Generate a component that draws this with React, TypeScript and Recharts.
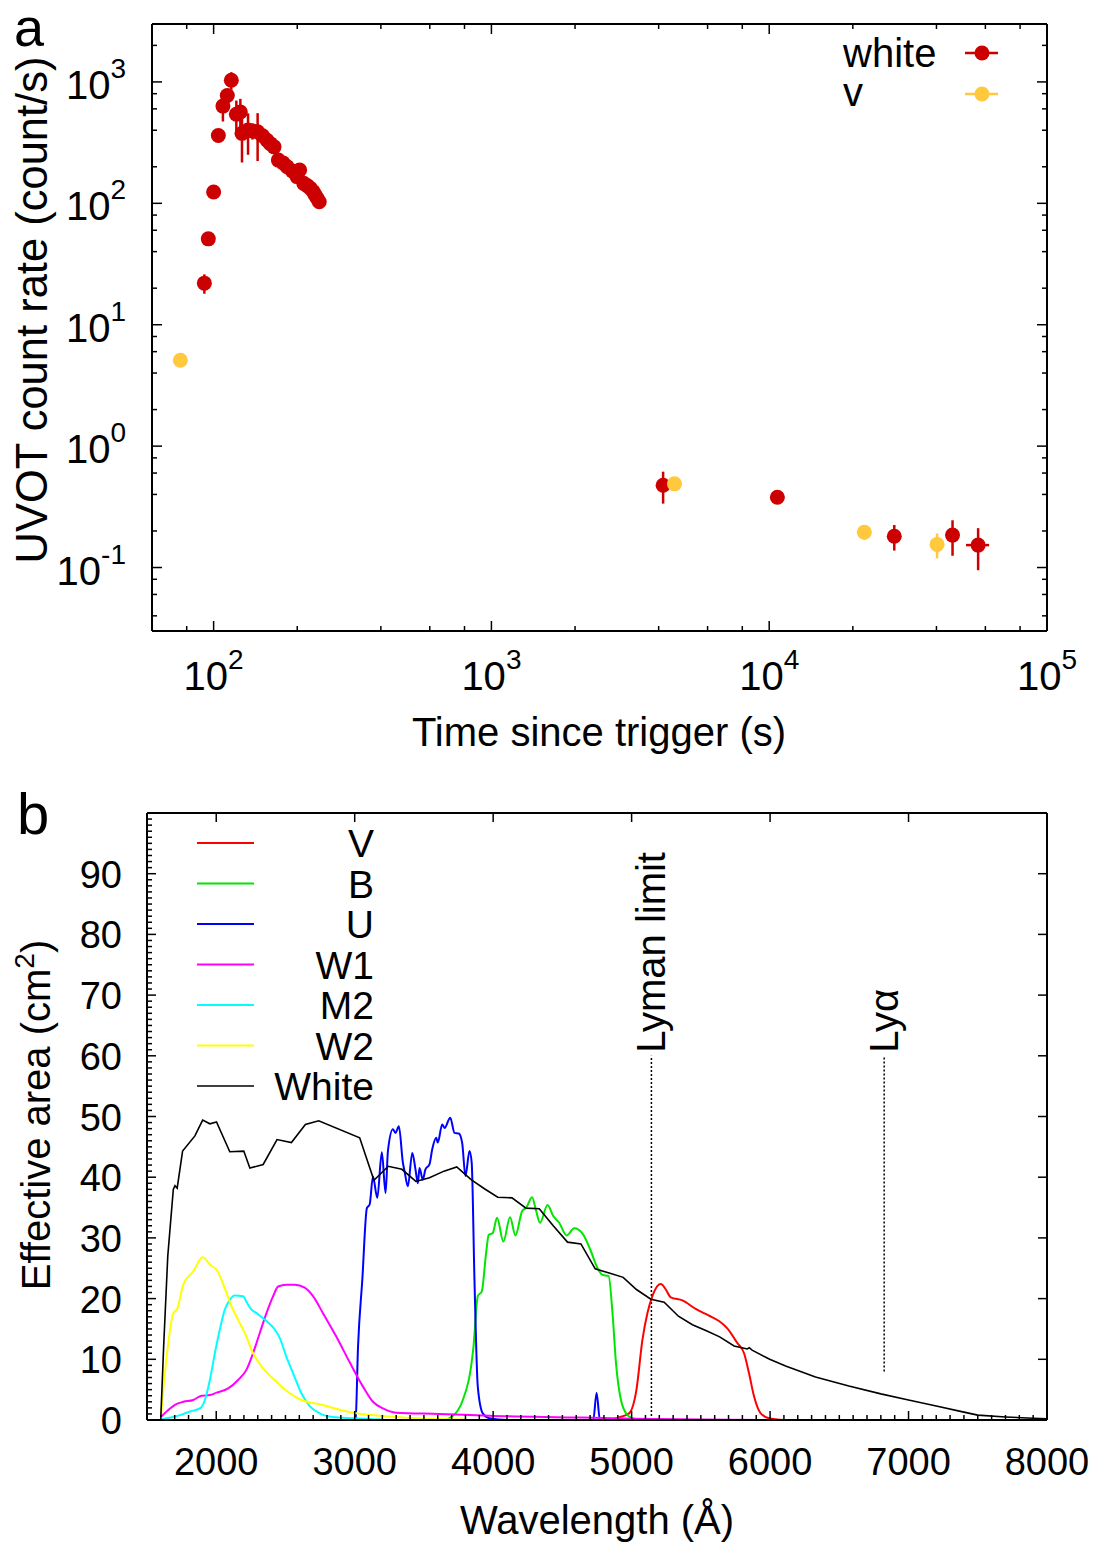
import { ScatterChart, Scatter, XAxis, YAxis, ErrorBar, LineChart, Line, ReferenceLine } from "recharts";

const FONT = '"Liberation Sans", Arial, Helvetica, sans-serif';
const RED = "#cc0000";
const GOLD = "#ffc83d";

// ---- panel a: UVOT light curve ----
const whiteTime = [92.6, 95.7, 100, 104, 108, 112, 115.8, 120.7, 124.8, 126.5, 133, 138, 144, 150, 155.7, 160, 165, 171, 178, 184, 192, 199.5, 204, 211, 217, 223, 228, 232, 236, 240, 4150, 10700, 28200, 45700, 56500];
const whiteRate = [22, 51, 124, 362, 632, 773, 1033, 542, 566, 377, 401, 395, 388, 360, 331, 310, 292, 227, 215, 200, 185, 166, 188, 146, 140, 133, 125, 117, 110, 103, 0.476, 0.379, 0.181, 0.185, 0.153];
const whiteRateErr = [4, 4, 8, 30, 160, 80, 170, 160, 160, 160, 150, 60, 165, 20, 15, 15, 15, 12, 12, 10, 10, 10, 10, 8, 8, 8, 7, 7, 6, 6, 0.14, 0.02, 0.043, 0.06, 0.058];
const whiteTimeErr = [0, 0, 0, 0, 0, 0, 0, 0, 0, 0, 0, 0, 0, 0, 0, 0, 0, 0, 0, 0, 0, 0, 0, 0, 0, 0, 0, 0, 0, 0, 0, 0, 0, 0, 5400];

const vTime = [75.9, 4560, 22000, 40200];
const vRate = [5.1, 0.489, 0.195, 0.155];
const vRateErr = [0.5, 0.02, 0.025, 0.036];

const timeTicks = [80, 100, 200, 400, 600, 800, 1000, 2000, 4000, 6000, 8000, 10000, 20000, 40000, 60000, 80000, 100000];
const rateTicks = [0.04, 0.06, 0.08, 0.1, 0.2, 0.4, 0.6, 0.8, 1, 2, 4, 6, 8, 10, 20, 40, 60, 80, 100, 200, 400, 600, 800, 1000, 2000];

const whiteData = whiteTime.map((t, i) => ({ t, rate: whiteRate[i], ey: whiteRateErr[i], ex: whiteTimeErr[i] }));
const vData = vTime.map((t, i) => ({ t, rate: vRate[i], ey: vRateErr[i], ex: 0 }));

// ---- panel b: effective areas [wavelength, cm2] ----
const vFilter = [[4850, 0], [4887, 0.3], [4982, 1.1], [5035, 5.0], [5078, 13.2], [5114, 17.6], [5150, 20.4], [5187, 22.1], [5211, 22.4], [5247, 21.5], [5283, 20.2], [5367, 19.7], [5463, 18.3], [5559, 17.2], [5631, 16.3], [5691, 15.1], [5763, 12.7], [5812, 11.0], [5848, 7.7], [5884, 3.9], [5932, 1.1], [5992, 0.3], [6100, 0]];
const bFilter = [[3650, 0], [3685, 0.3], [3781, 3.3], [3858, 12.1], [3889, 20.4], [3918, 21.2], [3949, 27.5], [3968, 30.5], [3997, 30.8], [4028, 33.3], [4074, 29.4], [4122, 33.4], [4161, 30.4], [4209, 34.4], [4240, 35.0], [4281, 36.7], [4310, 34.5], [4338, 32.5], [4393, 35.4], [4434, 33.6], [4477, 32.5], [4530, 30.4], [4586, 31.6], [4646, 30.7], [4706, 27.8], [4754, 25.0], [4790, 23.9], [4834, 23.7], [4862, 17.6], [4887, 9.4], [4923, 3.3], [4970, 0.8], [5006, 0.3], [5100, 0]];
const uFilter = [[2990, 0], [3007, 0.3], [3024, 12], [3055, 23.1], [3088, 34.9], [3108, 35.5], [3132, 40.1], [3163, 36.6], [3196, 44.1], [3223, 37.4], [3240, 44.3], [3276, 47.9], [3295, 47.3], [3319, 48.4], [3348, 42.4], [3360, 41.0], [3384, 38.5], [3416, 44.0], [3439, 41.3], [3456, 39.0], [3468, 41.5], [3492, 39.6], [3511, 41.3], [3540, 42.1], [3560, 44.6], [3589, 46.5], [3600, 45.7], [3632, 48.7], [3649, 48.1], [3690, 49.8], [3721, 47.3], [3752, 47.2], [3776, 45.7], [3800, 40.2], [3829, 44.3], [3845, 42.4], [3865, 23.1], [3889, 5.5], [3925, 1.1], [3973, 0.3], [4100, 0], [4723, 0], [4747, 4.5], [4771, 0], [5000, 0]];
const w1Filter = [[1600, 0.5], [1666, 1.9], [1702, 2.5], [1762, 3.0], [1834, 3.3], [1894, 4.0], [1954, 4.1], [2002, 4.5], [2086, 5.2], [2158, 6.6], [2219, 8.3], [2266, 11.0], [2314, 14.3], [2363, 17.6], [2411, 20.4], [2447, 22.0], [2507, 22.3], [2567, 22.3], [2639, 21.8], [2699, 20.4], [2771, 17.6], [2868, 13.7], [2964, 9.5], [3060, 5.5], [3132, 3.0], [3204, 1.9], [3300, 1.2], [3612, 1.0], [3973, 0.7], [4646, 0.4], [5000, 0.2], [5500, 0.1], [6000, 0]];
const m2Filter = [[1600, 0.1], [1738, 0.8], [1810, 1.4], [1882, 1.9], [1918, 3.3], [1954, 6.6], [1990, 11.0], [2026, 14.9], [2062, 18.2], [2098, 19.8], [2134, 20.5], [2194, 20.4], [2222, 19.3], [2250, 18.3], [2291, 17.6], [2363, 16.3], [2423, 14.9], [2459, 13.5], [2507, 10.4], [2555, 7.7], [2615, 4.4], [2675, 2.3], [2747, 1.1], [2843, 0.5], [2987, 0.3], [3200, 0.1]];
const w2Filter = [[1600, 0.5], [1642, 10.4], [1690, 17.6], [1718, 18.3], [1762, 22.3], [1834, 24.5], [1902, 26.8], [1954, 25.6], [2007, 24.6], [2062, 21.7], [2111, 18.7], [2158, 16.5], [2207, 14.3], [2266, 11.0], [2339, 8.5], [2435, 6.3], [2531, 4.4], [2615, 3.3], [2747, 2.6], [2891, 1.7], [3012, 1.1], [3180, 0.7], [3445, 0.3], [3800, 0.1]];
const whiteFilter = [[1600, 0.5], [1620, 12], [1650, 27], [1666, 31.4], [1690, 38], [1702, 38.6], [1718, 38.2], [1757, 44.3], [1846, 46.8], [1902, 49.4], [1954, 48.8], [2002, 49.1], [2098, 44.2], [2199, 44.3], [2243, 41.5], [2339, 42.1], [2439, 46.2], [2543, 45.7], [2644, 48.7], [2740, 49.3], [3036, 46.5], [3139, 39.5], [3242, 41.8], [3341, 41.3], [3442, 39.3], [3540, 39.9], [3645, 41.0], [3737, 41.7], [3841, 39.6], [3937, 38.1], [4033, 36.7], [4136, 36.6], [4237, 34.9], [4333, 34.8], [4434, 32.0], [4537, 29.3], [4634, 29.0], [4737, 24.9], [4838, 24.2], [4939, 23.5], [5035, 21.5], [5139, 19.9], [5235, 19.4], [5338, 17.1], [5439, 15.7], [5540, 14.7], [5636, 13.7], [5740, 12.2], [5835, 11.7], [5850, 11.9], [5870, 11.5], [5997, 10.0], [6112, 8.9], [6328, 7.1], [6569, 5.6], [6800, 4.3], [7000, 3.3], [7200, 2.3], [7400, 1.3], [7500, 0.8], [7700, 0.5], [7900, 0.3], [8000, 0.2]];

const lymanLimit = 5143;
const lymanAlpha = 6824;

const waveMajor = [2000, 3000, 4000, 5000, 6000, 7000, 8000];
const waveTicks = Array.from({ length: 65 }, (_, i) => 1600 + i * 100);
const areaMajor = [0, 10, 20, 30, 40, 50, 60, 70, 80, 90, 100];
const areaTicks = Array.from({ length: 101 }, (_, i) => i);

const filters = [
  { name: "V", color: "#ff0000", data: vFilter },
  { name: "B", color: "#00e600", data: bFilter },
  { name: "U", color: "#0000ff", data: uFilter },
  { name: "W1", color: "#ff00ff", data: w1Filter },
  { name: "M2", color: "#00ffff", data: m2Filter },
  { name: "W2", color: "#ffff00", data: w2Filter },
  { name: "White", color: "#000000", data: whiteFilter },
];

const toPts = (arr: number[][]) => arr.map(([w, a]) => ({ w, a }));

const isDecade = (v: number) => Math.abs(Math.log10(v) - Math.round(Math.log10(v))) < 1e-6;
const frame = { stroke: "#000", strokeWidth: 2 };

function LogXTick(props: any) {
  const { x, y, payload, side } = props;
  const v = payload.value;
  const major = isDecade(v);
  const len = major ? 10 : 5;
  const dir = side === "top" ? 1 : -1;
  return (
    <g>
      <line x1={x} x2={x} y1={y} y2={y + dir * len} stroke="#000" strokeWidth={1.5} />
      {side !== "top" && major && (
        <text x={x} y={y + 59} textAnchor="middle" fontSize={40} fontFamily={FONT} fill="#000">
          10<tspan dy={-21} fontSize={28}>{Math.round(Math.log10(v))}</tspan>
        </text>
      )}
    </g>
  );
}

function LogYTick(props: any) {
  const { x, y, payload, side } = props;
  const v = payload.value;
  const major = isDecade(v);
  const len = major ? 10 : 5;
  const dir = side === "right" ? -1 : 1;
  return (
    <g>
      <line x1={x} x2={x + dir * len} y1={y} y2={y} stroke="#000" strokeWidth={1.5} />
      {side !== "right" && major && (
        <text x={x - 26} y={y + 17} textAnchor="end" fontSize={40} fontFamily={FONT} fill="#000">
          10<tspan dy={-21} fontSize={28}>{Math.round(Math.log10(v))}</tspan>
        </text>
      )}
    </g>
  );
}

function LinXTick(props: any) {
  const { x, y, payload, side } = props;
  const v = payload.value;
  const major = v % 1000 === 0;
  const len = major ? 9 : 5;
  const dir = side === "top" ? 1 : -1;
  return (
    <g>
      <line x1={x} x2={x} y1={y} y2={y + dir * len} stroke="#000" strokeWidth={1.5} />
      {side !== "top" && major && (
        <text x={x} y={y + 55} textAnchor="middle" fontSize={38} fontFamily={FONT} fill="#000">
          {v}
        </text>
      )}
    </g>
  );
}

function LinYTick(props: any) {
  const { x, y, payload, side } = props;
  const v = payload.value;
  const major = v % 10 === 0;
  const len = major ? 9 : 5;
  const dir = side === "right" ? -1 : 1;
  return (
    <g>
      <line x1={x} x2={x + dir * len} y1={y} y2={y} stroke="#000" strokeWidth={1.5} />
      {side !== "right" && major && v < 100 && (
        <text x={x - 25} y={y + 14} textAnchor="end" fontSize={38} fontFamily={FONT} fill="#000">
          {v}
        </text>
      )}
    </g>
  );
}

function RotLabel(props: any) {
  const { viewBox, text } = props;
  const x = viewBox.x + 14;
  const y = viewBox.y - 3;
  return (
    <text x={x} y={y} transform={`rotate(-90 ${x} ${y})`} fontSize={40} fontFamily={FONT} fill="#000">
      {text}
    </text>
  );
}

const dotShape = (color: string) => (p: any) => <circle cx={p.cx} cy={p.cy} r={7.5} fill={color} />;

function LightCurve() {
  return (
    <ScatterChart width={1102} height={760} margin={{ top: 23, right: 54, bottom: 0, left: 0 }}>
      <XAxis xAxisId="b" type="number" dataKey="t" scale="log" domain={[60, 100000]} allowDataOverflow ticks={timeTicks} interval={0}
        height={129} tickSize={0} tickMargin={0} tickLine={false} axisLine={frame} tick={(p: any) => <LogXTick {...p} side="bottom" />} />
      <XAxis xAxisId="t" orientation="top" type="number" dataKey="t" scale="log" domain={[60, 100000]} allowDataOverflow ticks={timeTicks} interval={0}
        height={1} tickSize={0} tickMargin={0} tickLine={false} axisLine={frame} tick={(p: any) => <LogXTick {...p} side="top" />} />
      <YAxis yAxisId="l" type="number" dataKey="rate" scale="log" domain={[0.03, 3000]} allowDataOverflow ticks={rateTicks} interval={0}
        width={152} tickSize={0} tickMargin={0} tickLine={false} axisLine={frame} tick={(p: any) => <LogYTick {...p} side="left" />} />
      <YAxis yAxisId="r" orientation="right" type="number" dataKey="rate" scale="log" domain={[0.03, 3000]} allowDataOverflow ticks={rateTicks} interval={0}
        width={1} tickSize={0} tickMargin={0} tickLine={false} axisLine={frame} tick={(p: any) => <LogYTick {...p} side="right" />} />
      <Scatter xAxisId="b" yAxisId="l" data={whiteData} isAnimationActive={false} shape={dotShape(RED)}>
        <ErrorBar dataKey="ey" direction="y" width={0} stroke={RED} strokeWidth={2.5} />
        <ErrorBar dataKey="ex" direction="x" width={0} stroke={RED} strokeWidth={2.5} />
      </Scatter>
      <Scatter xAxisId="b" yAxisId="l" data={vData} isAnimationActive={false} shape={dotShape(GOLD)}>
        <ErrorBar dataKey="ey" direction="y" width={0} stroke={GOLD} strokeWidth={2.5} />
      </Scatter>
    </ScatterChart>
  );
}

function AreaCurves() {
  return (
    <LineChart width={1102} height={785} margin={{ top: 52, right: 54, bottom: 0, left: 0 }}>
      <XAxis xAxisId="b" type="number" dataKey="w" domain={[1500, 8000]} allowDataOverflow ticks={waveTicks} interval={0}
        height={125} tickSize={0} tickMargin={0} tickLine={false} axisLine={frame} tick={(p: any) => <LinXTick {...p} side="bottom" />} />
      <XAxis xAxisId="t" orientation="top" type="number" dataKey="w" domain={[1500, 8000]} allowDataOverflow ticks={waveMajor} interval={0}
        height={1} tickSize={0} tickMargin={0} tickLine={false} axisLine={frame} tick={(p: any) => <LinXTick {...p} side="top" />} />
      <YAxis yAxisId="l" type="number" domain={[0, 100]} allowDataOverflow ticks={areaTicks} interval={0}
        width={147} tickSize={0} tickMargin={0} tickLine={false} axisLine={frame} tick={(p: any) => <LinYTick {...p} side="left" />} />
      <YAxis yAxisId="r" orientation="right" type="number" domain={[0, 100]} allowDataOverflow ticks={areaMajor} interval={0}
        width={1} tickSize={0} tickMargin={0} tickLine={false} axisLine={frame} tick={(p: any) => <LinYTick {...p} side="right" />} />
      <ReferenceLine xAxisId="b" yAxisId="l" segment={[{ x: lymanLimit, y: 0 }, { x: lymanLimit, y: 60 }]}
        stroke="#000" strokeWidth={1.5} strokeDasharray="2 2" label={<RotLabel text="Lyman limit" />} />
      <ReferenceLine xAxisId="b" yAxisId="l" segment={[{ x: lymanAlpha, y: 8 }, { x: lymanAlpha, y: 60 }]}
        stroke="#000" strokeWidth={1.5} strokeDasharray="2 2" label={<RotLabel text="Lyα" />} />
      {filters.map((f) => (
        <Line key={f.name} xAxisId="b" yAxisId="l" data={toPts(f.data)} dataKey="a" type={f.name === "White" ? "linear" : "monotone"}
          stroke={f.color} strokeWidth={f.name === "White" ? 1.6 : 2} dot={false} isAnimationActive={false} />
      ))}
    </LineChart>
  );
}

export default function App() {
  const txt = { fontFamily: FONT, fill: "#000" };
  return (
    <div style={{ position: "absolute", left: 0, top: 0, width: 1102, height: 1545, background: "#fff" }}>
      <div style={{ position: "absolute", left: 0, top: 0 }}>
        <LightCurve />
      </div>
      <div style={{ position: "absolute", left: 0, top: 760 }}>
        <AreaCurves />
      </div>
      <svg width={1102} height={1545} style={{ position: "absolute", left: 0, top: 0, pointerEvents: "none" }}>
        <text x={14} y={46} fontSize={54} {...txt}>a</text>
        <text x={47} y={310} fontSize={43.5} textAnchor="middle" transform="rotate(-90 47 310)" {...txt}>UVOT count rate (count/s)</text>
        <text x={599} y={746} fontSize={40} textAnchor="middle" {...txt}>Time since trigger (s)</text>
        <text x={843} y={67} fontSize={40} {...txt}>white</text>
        <line x1={965} x2={998} y1={53} y2={53} stroke={RED} strokeWidth={2.5} />
        <circle cx={982} cy={53} r={7.5} fill={RED} />
        <text x={843} y={106} fontSize={40} {...txt}>v</text>
        <line x1={965} x2={998} y1={94} y2={94} stroke={GOLD} strokeWidth={2.5} />
        <circle cx={982} cy={94} r={7.5} fill={GOLD} />

        <text x={17} y={834} fontSize={58} {...txt}>b</text>
        <text x={50} y={1115} fontSize={40} textAnchor="middle" transform="rotate(-90 50 1115)" {...txt}>
          Effective area (cm<tspan dy={-16} fontSize={28}>2</tspan><tspan dy={16}>)</tspan>
        </text>
        <text x={597} y={1534} fontSize={40} textAnchor="middle" {...txt}>Wavelength (Å)</text>
        {filters.map((f, i) => (
          <g key={f.name}>
            <line x1={197} x2={254} y1={843 + i * 40.5} y2={843 + i * 40.5} stroke={f.color} strokeWidth={f.name === "White" ? 1.6 : 2} />
            <text x={374} y={857 + i * 40.5} fontSize={39} textAnchor="end" {...txt}>{f.name}</text>
          </g>
        ))}
      </svg>
    </div>
  );
}
